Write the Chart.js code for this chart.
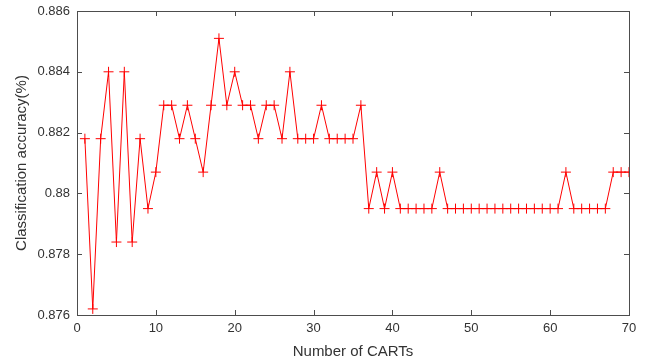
<!DOCTYPE html>
<html lang="en">
<head>
    <meta charset="UTF-8">
    <title>Classification accuracy vs number of CARTs</title>
    <script src="https://cdn.jsdelivr.net/npm/chart.js"></script>
    <style>
        html, body { margin: 0; padding: 0; background: #ffffff; }
        #wrap { width: 646px; height: 363px; }
    </style>
</head>
<body>
    <div id="wrap"><canvas id="accChart" width="646" height="363"></canvas></div>

    <script>
        // number of CARTs (x)
        const cartCounts = [
            1, 2, 3, 4, 5, 6, 7, 8, 9, 10,
            11, 12, 13, 14, 15, 16, 17, 18, 19, 20,
            21, 22, 23, 24, 25, 26, 27, 28, 29, 30,
            31, 32, 33, 34, 35, 36, 37, 38, 39, 40,
            41, 42, 43, 44, 45, 46, 47, 48, 49, 50,
            51, 52, 53, 54, 55, 56, 57, 58, 59, 60,
            61, 62, 63, 64, 65, 66, 67, 68, 69, 70
        ];
        // classification accuracy
        const accuracy = [
            0.8818, 0.8762, 0.8818, 0.8840, 0.8784, 0.8840, 0.8784, 0.8818, 0.8795, 0.8807,
            0.8829, 0.8829, 0.8818, 0.8829, 0.8818, 0.8807, 0.8829, 0.8851, 0.8829, 0.8840,
            0.8829, 0.8829, 0.8818, 0.8829, 0.8829, 0.8818, 0.8840, 0.8818, 0.8818, 0.8818,
            0.8829, 0.8818, 0.8818, 0.8818, 0.8818, 0.8829, 0.8795, 0.8807, 0.8795, 0.8807,
            0.8795, 0.8795, 0.8795, 0.8795, 0.8795, 0.8807, 0.8795, 0.8795, 0.8795, 0.8795,
            0.8795, 0.8795, 0.8795, 0.8795, 0.8795, 0.8795, 0.8795, 0.8795, 0.8795, 0.8795,
            0.8795, 0.8807, 0.8795, 0.8795, 0.8795, 0.8795, 0.8795, 0.8807, 0.8807, 0.8807
        ];
        const xTickLabels = ["0", "10", "20", "30", "40", "50", "60", "70"];
        const yTickLabels = ["0.876", "0.878", "0.88", "0.882", "0.884", "0.886"];

        const axisColor = "#4d4d4d";
        const textColor = "#333333";

        // matlab style box with ticks pointing inward
        const boxPlugin = {
            id: "boxAxes",
            afterDatasetsDraw(chart) {
                const { ctx, chartArea: a, scales } = chart;
                const len = 5;
                ctx.save();
                ctx.strokeStyle = axisColor;
                ctx.lineWidth = 1;
                ctx.strokeRect(a.left + 0.5, a.top + 0.5, a.right - a.left, a.bottom - a.top);
                ctx.beginPath();
                scales.x.ticks.forEach(t => {
                    const px = Math.round(scales.x.getPixelForValue(t.value)) + 0.5;
                    ctx.moveTo(px, a.bottom);
                    ctx.lineTo(px, a.bottom - len);
                    ctx.moveTo(px, a.top);
                    ctx.lineTo(px, a.top + len);
                });
                scales.y.ticks.forEach(t => {
                    const py = Math.round(scales.y.getPixelForValue(t.value)) + 0.5;
                    ctx.moveTo(a.left, py);
                    ctx.lineTo(a.left + len, py);
                    ctx.moveTo(a.right, py);
                    ctx.lineTo(a.right - len, py);
                });
                ctx.stroke();
                ctx.restore();
            }
        };

        const points = cartCounts.map((n, i) => ({ x: n, y: accuracy[i] }));

        new Chart(document.getElementById("accChart").getContext("2d"), {
            type: "line",
            data: {
                datasets: [{
                    data: points,
                    borderColor: "#ff0000",
                    borderWidth: 1,
                    pointStyle: "cross",
                    pointRadius: 5,
                    pointBorderColor: "#ff0000",
                    pointBorderWidth: 1,
                    pointHoverRadius: 5,
                    tension: 0,
                    fill: false
                }]
            },
            options: {
                responsive: false,
                animation: false,
                layout: { padding: { top: 11, right: 17, left: 0, bottom: 0 } },
                plugins: {
                    legend: { display: false },
                    tooltip: { enabled: false }
                },
                scales: {
                    x: {
                        type: "linear",
                        min: 0,
                        max: 70,
                        grid: { display: false, drawTicks: false },
                        border: { display: false },
                        afterFit: s => {
                            s.height = 48;
                            s.paddingLeft = 0;
                            s.paddingRight = 0;
                        },
                        ticks: {
                            stepSize: 10,
                            padding: 6,
                            color: textColor,
                            font: { family: "'Liberation Sans', Arial, sans-serif", size: 13 },
                            callback: (v, i) => xTickLabels[i]
                        },
                        title: {
                            display: true,
                            text: "Number of CARTs",
                            color: textColor,
                            padding: { top: 0, bottom: 2 },
                            font: { family: "'Liberation Sans', Arial, sans-serif", size: 15 }
                        }
                    },
                    y: {
                        min: 0.876,
                        max: 0.886,
                        grid: { display: false, drawTicks: false },
                        border: { display: false },
                        afterFit: s => {
                            s.width = 77;
                            s.paddingTop = 0;
                            s.paddingBottom = 0;
                        },
                        ticks: {
                            stepSize: 0.002,
                            padding: 7,
                            color: textColor,
                            font: { family: "'Liberation Sans', Arial, sans-serif", size: 13 },
                            callback: (v, i) => yTickLabels[i]
                        },
                        title: {
                            display: true,
                            text: "Classification accuracy(%)",
                            color: textColor,
                            padding: { top: 13, bottom: 0 },
                            font: { family: "'Liberation Sans', Arial, sans-serif", size: 15 }
                        }
                    }
                }
            },
            plugins: [boxPlugin]
        });
    </script>
</body>
</html>
